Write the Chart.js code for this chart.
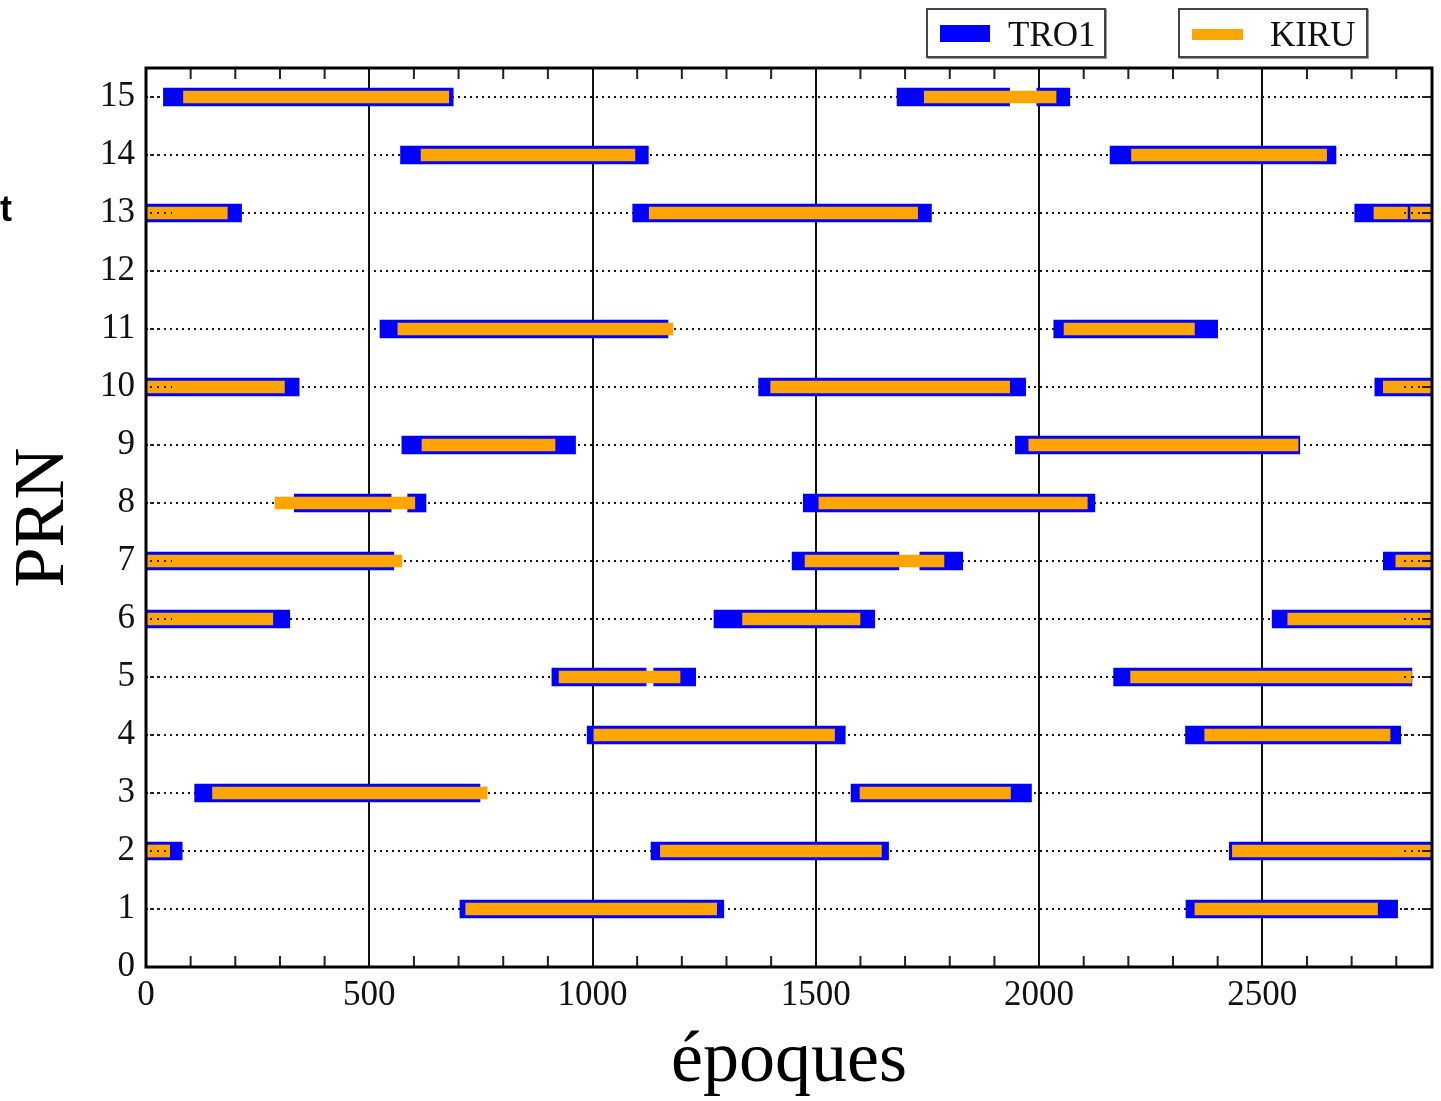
<!DOCTYPE html>
<html>
<head>
<meta charset="utf-8">
<script src="https://cdn.jsdelivr.net/npm/chart.js@4/dist/chart.umd.min.js"></script>
<style>
  body { margin: 0; background: #fff; }
  #wrap { position: relative; width: 1441px; height: 1101px; overflow: hidden; }
  .legbox { position: absolute; top: 8px; height: 46px; border: 2px solid #444; box-shadow: 1px 1px 0 #999; background: #fff; }
  .legtxt { position: absolute; top: 6px; font: 35px "Liberation Serif", serif; color: #111; line-height: 38px; }
  .sw { position: absolute; }
  #stray { position: absolute; left: 0; top: 191px; font: bold 36px "Liberation Sans", Arial, sans-serif; line-height: 36px; color: #000; }
</style>
</head>
<body>
<div id="wrap">
  <canvas id="chart" width="1441" height="1101"></canvas>
  <div id="stray">t</div>
  <div class="legbox" style="left:926px;width:176px;">
    <div class="sw" style="left:12px;top:15px;width:50px;height:17px;background:#0000ff;"></div>
    <div class="legtxt" style="left:80px;">TRO1</div>
  </div>
  <div class="legbox" style="left:1178px;width:186px;">
    <div class="sw" style="left:12px;top:19px;width:51px;height:11px;background:#ffa500;"></div>
    <div class="legtxt" style="left:90px;">KIRU</div>
  </div>
</div>
<script>
// axis limits and tick labels
const xMax = 2880;
const yMax = 15.5;
const xTicks = [0, 500, 1000, 1500, 2000, 2500];
const yTicks = [0, 1, 2, 3, 4, 5, 6, 7, 8, 9, 10, 11, 12, 13, 14, 15];
const minorStep = 100;

// TRO1 visibility windows (PRN, first epoch, last epoch)
const tro1Prn   = [15, 15, 15, 14, 14, 13, 13, 13, 11, 11, 10, 10, 10, 9, 9, 8, 8, 8, 7, 7, 7, 7, 6, 6, 6, 5, 5, 5, 4, 4, 3, 3, 2, 2, 2, 1, 1];
const tro1Start = [39, 1682, 1995, 570, 2159, 0, 1090, 2707, 524, 2033, 0, 1372, 2752, 573, 1947, 332, 586, 1472, 0, 1447, 1733, 2771, 0, 1272, 2522, 909, 1137, 2167, 988, 2328, 109, 1579, 0, 1131, 2426, 703, 2329];
const tro1End   = [688, 1934, 2069, 1125, 2665, 214, 1759, 2880, 1169, 2400, 343, 1970, 2880, 962, 2584, 549, 627, 2125, 555, 1686, 1829, 2880, 322, 1632, 2880, 1120, 1231, 2835, 1566, 2810, 748, 1983, 81, 1663, 2880, 1294, 2803];

// KIRU visibility windows
const kiruPrn   = [15, 15, 14, 14, 13, 13, 13, 13, 11, 11, 10, 10, 10, 9, 9, 8, 8, 7, 7, 7, 6, 6, 6, 5, 5, 4, 4, 3, 3, 2, 2, 2, 1, 1];
const kiruStart = [84, 1743, 616, 2207, 0, 1127, 2750, 2832, 564, 2056, 0, 1399, 2771, 618, 1977, 289, 1507, 0, 1476, 2799, 0, 1336, 2557, 925, 2205, 1003, 2371, 149, 1599, 0, 1152, 2433, 716, 2349];
const kiruEnd   = [678, 2038, 1095, 2644, 182, 1728, 2825, 2880, 1180, 2348, 310, 1934, 2880, 916, 2580, 602, 2108, 573, 1787, 2880, 284, 1599, 2880, 1196, 2834, 1542, 2786, 764, 1936, 53, 1647, 2880, 1278, 2758];

const toBars = (prn, s, e) => prn.map((p, i) => ({ y: p, x: [s[i], e[i]] }));

const serif = '"Liberation Serif", "Times New Roman", serif';

// frame, inner ticks and the dotted ends drawn over the bars
const framePlugin = {
  id: 'frame',
  afterDatasetsDraw(chart) {
    const { ctx, chartArea: a, scales: { x, y } } = chart;
    ctx.save();
    // dotted ends on top of bars
    ctx.strokeStyle = '#222';
    ctx.lineWidth = 2;
    ctx.setLineDash([2, 5]);
    for (let v = 1; v <= 15; v++) {
      const py = y.getPixelForValue(v);
      ctx.beginPath();
      ctx.moveTo(a.left + 4, py); ctx.lineTo(a.left + 26, py);
      ctx.moveTo(a.right - 28, py); ctx.lineTo(a.right, py);
      ctx.stroke();
    }
    ctx.setLineDash([]);
    // right ticks
    for (let v = 1; v <= 15; v++) {
      const py = y.getPixelForValue(v);
      ctx.beginPath();
      ctx.moveTo(a.right - 10, py); ctx.lineTo(a.right, py);
      ctx.stroke();
    }
    // minor ticks top and bottom
    for (let v = minorStep; v < xMax; v += minorStep) {
      if (xTicks.includes(v)) continue;
      const px = x.getPixelForValue(v);
      ctx.beginPath();
      ctx.moveTo(px, a.top); ctx.lineTo(px, a.top + 11);
      ctx.moveTo(px, a.bottom); ctx.lineTo(px, a.bottom - 11);
      ctx.stroke();
    }
    // box
    ctx.strokeStyle = '#000';
    ctx.lineWidth = 3;
    ctx.strokeRect(a.left, a.top, a.right - a.left, a.bottom - a.top);
    ctx.restore();
  }
};

new Chart(document.getElementById('chart'), {
  type: 'bar',
  data: {
    datasets: [
      {
        label: 'TRO1',
        data: toBars(tro1Prn, tro1Start, tro1End),
        backgroundColor: '#0000ff',
        borderWidth: 0,
        barThickness: 18,
        grouped: false,
        order: 2
      },
      {
        label: 'KIRU',
        data: toBars(kiruPrn, kiruStart, kiruEnd),
        backgroundColor: '#ffa500',
        borderWidth: 0,
        barThickness: 12,
        grouped: false,
        order: 1
      }
    ]
  },
  options: {
    indexAxis: 'y',
    responsive: false,
    animation: false,
    layout: { padding: { top: 68, right: 9, left: 0, bottom: 0 } },
    plugins: { legend: { display: false }, tooltip: { enabled: false } },
    scales: {
      x: {
        type: 'linear',
        min: 0,
        max: xMax,
        offset: false,
        afterBuildTicks: (s) => { s.ticks = xTicks.map(v => ({ value: v })); },
        ticks: { autoSkip: false, padding: 8, color: '#111', font: { family: serif, size: 35 }, maxRotation: 0, callback: (v) => String(v) },
        grid: {
          offset: false,
          drawTicks: false,
          lineWidth: 2,
          color: (c) => (c.tick && c.tick.value === 0 ? 'rgba(0,0,0,0)' : '#111')
        },
        border: { display: false },
        title: { display: true, text: 'époques', color: '#000', font: { family: serif, size: 72, lineHeight: 1 }, padding: { top: 0, bottom: 3 } },
        afterFit: (s) => { s.height = 1101 - 967; }
      },
      y: {
        type: 'linear',
        min: 0,
        max: yMax,
        offset: false,
        afterBuildTicks: (s) => { s.ticks = yTicks.map(v => ({ value: v })); },
        ticks: { autoSkip: false, padding: 11, color: '#111', font: { family: serif, size: 35 }, callback: (v) => String(v) },
        grid: {
          offset: false,
          drawTicks: false,
          lineWidth: 2,
          color: (c) => (c.tick && c.tick.value === 0 ? 'rgba(0,0,0,0)' : '#1a1a1a')
        },
        border: { display: false, dash: [2, 4] },
        title: { display: true, text: 'PRN', color: '#000', font: { family: serif, size: 72, lineHeight: 1 }, padding: { top: 8, bottom: 0 } },
        afterFit: (s) => { s.width = 146; }
      }
    }
  },
  plugins: [framePlugin]
});
</script>
</body>
</html>
